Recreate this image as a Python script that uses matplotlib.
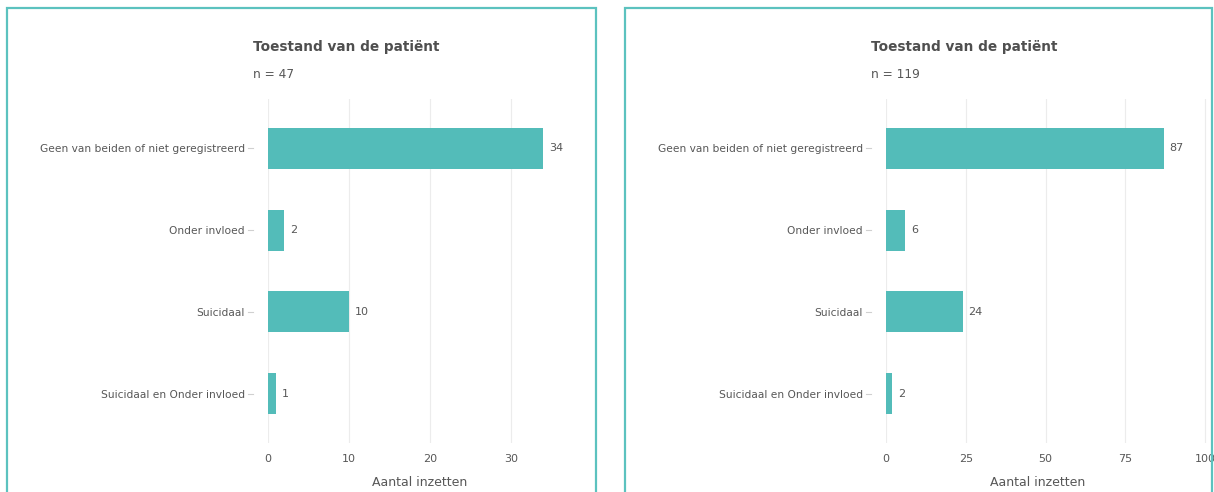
import matplotlib
matplotlib.use("Agg")
import matplotlib.pyplot as plt
import matplotlib.transforms as mtransforms
from matplotlib.patches import Rectangle

categorieen = ["Geen van beiden of niet geregistreerd", "Onder invloed",
               "Suicidaal", "Suicidaal en Onder invloed"]
waarden_links = [34, 2, 10, 1]
waarden_rechts = [87, 6, 24, 2]
n_links = 47
n_rechts = 119
ticks_links = [0, 10, 20, 30]
ticks_rechts = [0, 25, 50, 75, 100]

TEAL = "#53bcb9"
RAND = "#5cc2bf"
TEKST = "#575757"

W, H = 1214, 492
fig = plt.figure(figsize=(W / 100, H / 100), dpi=100)


def px(x0, y0, x1, y1):
    # pixel box (top-left origin) -> figure fraction
    return [x0 / W, 1 - y1 / H, (x1 - x0) / W, (y1 - y0) / H]


def paneel(rand_x0, rand_x1, ax_x0, ax_x1, xmax, waarden, ticks, n):
    fig.patches.append(Rectangle((rand_x0 / W, -0.1), (rand_x1 - rand_x0) / W,
                                 1 - 8 / H + 0.1, transform=fig.transFigure,
                                 fill=False, edgecolor=RAND, linewidth=1.6))
    breedte = ax_x1 - ax_x0
    ax = fig.add_axes(px(ax_x0, 99, ax_x1, 443))
    y = list(range(len(categorieen)))
    ax.barh(y, waarden, height=0.5, color=TEAL, zorder=2)
    for yi, v in zip(y, waarden):
        ax.annotate(str(v), (v, yi), xytext=(6, 0), textcoords="offset pixels",
                    va="center", ha="left", fontsize=8, color=TEKST)
    ax.set_ylim(3.6, -0.6)
    ax.set_xlim(0, xmax)
    ax.set_yticks(y)
    ax.set_yticklabels(categorieen, fontsize=7.7, color=TEKST)
    ax.set_xticks(ticks)
    ax.set_xticklabels([str(t) for t in ticks], fontsize=8, color=TEKST)
    ax.tick_params(axis="y", length=0, pad=16.5)
    ax.tick_params(axis="x", length=0, pad=8)
    # korte streepjes los van de as, zoals in het origineel
    trans = mtransforms.blended_transform_factory(ax.transAxes, ax.transData)
    for yi in y:
        ax.plot([-20 / breedte, -15 / breedte], [yi, yi], color="#d0d0d0",
                linewidth=0.8, transform=trans, clip_on=False)
    for s in ax.spines.values():
        s.set_visible(False)
    ax.grid(axis="x", color="#ececec", linewidth=0.8, zorder=0)
    ax.set_xlabel("Aantal inzetten", fontsize=9, color=TEKST)
    ax.xaxis.set_label_coords(152 / breedte, -0.095)
    fig.text((ax_x0 - 15) / W, 1 - 47 / H, "Toestand van de patiënt",
             fontsize=9.8, fontweight="bold", color="#4f4f4f", va="center")
    fig.text((ax_x0 - 15) / W, 1 - 75 / H, "n = %d" % n,
             fontsize=8.7, color=TEKST, va="center")
    return ax


paneel(7, 596, 268, 590, (590 - 268) / 8.1, waarden_links, ticks_links, n_links)
paneel(625, 1212, 886, 1208, (1208 - 886) / 3.19, waarden_rechts, ticks_rechts, n_rechts)

fig.savefig("out.png", dpi=100, facecolor="white")
